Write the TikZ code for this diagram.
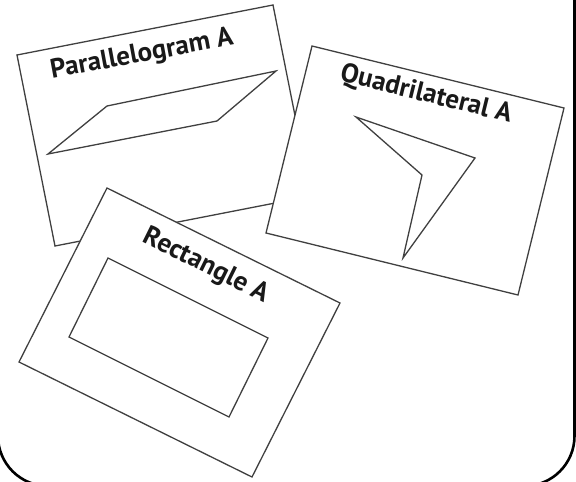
\documentclass[tikz,border=0pt]{standalone}
\usepackage{fontspec}
\setsansfont{PT Sans}
\usetikzlibrary{calc}

\begin{document}
\begin{tikzpicture}[x=1pt, y=-1pt,
    card/.style={draw=black!75, fill=white, line width=1.3pt},
    figline/.style={draw=black!75, line width=1.3pt, line join=miter},
    cardtext/.style={font=\sffamily\bfseries\fontsize{27}{27}\selectfont, text=black!90, inner sep=0pt}]
    \useasboundingbox (0,0) rectangle (576,482);
    % outer frame
    \draw[line width=2.6pt, rounded corners=50pt] (-2,-80) rectangle (574.5,486);

    % card 1: parallelogram
    \coordinate (pa) at (17,55);
    \coordinate (pb) at (273,5);
    \coordinate (pd) at (55,246);
    \filldraw[card] (pa) -- (pb) -- ($(pb)+(pd)-(pa)$) -- (pd) -- cycle;
    \draw[figline] (48,154) -- (107,106) -- (276,71) -- (217,121) -- cycle;
    \node[cardtext, rotate=10.5] (paralabel) at (142,55) {Parallelogram A};

    % card 2: quadrilateral
    \coordinate (qa) at (312,46);
    \coordinate (qb) at (564,108);
    \coordinate (qd) at (266,233);
    \filldraw[card] (qa) -- (qb) -- ($(qb)+(qd)-(qa)$) -- (qd) -- cycle;
    \draw[figline] (356,117) -- (475,158) -- (403,258) -- (422,175) -- cycle;
    \node[cardtext, rotate=-13.8] (quadlabel) at (426,95) {Quadrilateral A};

    % card 3: rectangle
    \coordinate (ra) at (107,188);
    \coordinate (rb) at (340,303);
    \coordinate (rd) at (19,362);
    \filldraw[card] (ra) -- (rb) -- ($(rb)+(rd)-(ra)$) -- (rd) -- cycle;
    \draw[figline] (108,258) -- (268,338) -- (229,417) -- (69,337) -- cycle;
    \node[cardtext, rotate=-26.3] (rectlabel) at (206,266) {Rectangle A};
\end{tikzpicture}
\end{document}
